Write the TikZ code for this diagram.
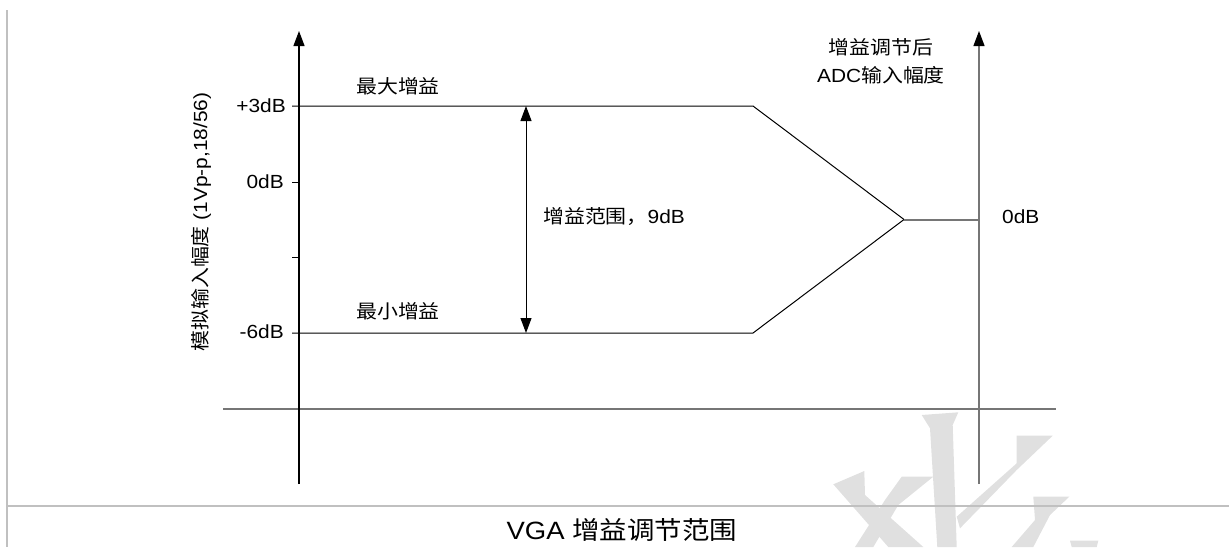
\documentclass[tikz,border=0pt]{standalone}
\usepackage{fontspec}
\setmainfont{Liberation Sans}[FakeStretch=1.1]
\newfontfamily\cjk{Noto Sans CJK SC}[FakeStretch=1.1]
\usetikzlibrary{arrows.meta}
\newcommand{\zh}[1]{{\cjk #1}}
\definecolor{border}{RGB}{192,192,192}
\definecolor{axgray}{RGB}{118,118,118}
\definecolor{wmark}{RGB}{224,224,224}
\tikzset{
  lbl/.style={inner sep=0pt, font=\fontsize{19}{22}\selectfont},
  ttlstyle/.style={inner sep=0pt, font=\fontsize{25}{28}\selectfont},
  axisline/.style={line width=1.2pt, -{Triangle[length=15pt,width=11pt,color=black]}},
  dimarrow/.style={line width=1pt, {Triangle[length=15pt,width=11pt]}-{Triangle[length=15pt,width=11pt]}},
  curve/.style={line width=1pt},
  tickline/.style={line width=1pt},
  frame/.style={line width=2pt, draw=border},
  wm/.style={fill=wmark, draw=none}
}
\begin{document}
\begin{tikzpicture}[x=1pt,y=-1pt]
\useasboundingbox (0,0) rectangle (1229,547);
% watermark
\fill[wm] (833.3,484.3) -- (864.3,471) -- (865,495) -- (923.3,547) -- (888.3,547) -- cycle;
\fill[wm] (901.7,476.7) -- (933.3,476.7) -- (898.3,505) -- (873.3,547) -- (855,547) -- (885,500) -- cycle;
\fill[wm] (921.7,415) -- (958.3,412.3) -- (952.7,425) -- (956.7,547) -- (937.3,547) -- (930,428.3) -- cycle;
\fill[wm] (1016.7,435.7) -- (1052.7,435.7) -- (1016.7,470) -- (960,528.3) -- (956.7,516.7) -- (1016.7,463.3) -- cycle;
\fill[wm] (1033.3,496.7) -- (1069.3,496.7) -- (1050,515) -- (1033.3,547) -- (1011.7,547) -- (1035,520) -- cycle;
\fill[wm] (1070,540.7) -- (1098.3,540.7) -- (1096.7,547) -- (1071.7,547) -- cycle;
% page frame
\coordinate (fA) at (7,10);
\coordinate (fB) at (7,547);
\coordinate (sA) at (7,505.5);
\coordinate (sB) at (1229,505.5);
\draw[frame] (fA) -- (fB);
\draw[frame] (sA) -- (sB);
% coordinates
\coordinate (lax0) at (299,484);
\coordinate (lax1) at (299,31);
\coordinate (rax0) at (979,484);
\coordinate (rax1) at (979,31);
\coordinate (xa0) at (223,409);
\coordinate (xa1) at (1056,409);
\coordinate (top0) at (292,106);
\coordinate (top1) at (753,106);
\coordinate (bot0) at (292,333);
\coordinate (bot1) at (753,333);
\coordinate (meet) at (904,219.5);
\coordinate (rmeet) at (979,219.5);
\coordinate (t0a) at (292,182);
\coordinate (t0b) at (299,182);
\coordinate (tma) at (292,257);
\coordinate (tmb) at (299,257);
\coordinate (dtop) at (526,106);
\coordinate (dbot) at (526,333);
% axes
\draw[line width=2pt, draw=axgray] (xa0) -- (xa1);
\draw[axisline] (lax0) -- (lax1);
\draw[axisline, draw=axgray] (rax0) -- (rax1);
% gain curves
\draw[curve] (top0) -- (top1) -- (meet);
\draw[curve] (bot0) -- (bot1) -- (meet);
\draw[line width=2pt, draw=axgray] (meet) -- (rmeet);
\draw[tickline] (t0a) -- (t0b);
\draw[tickline] (tma) -- (tmb);
\draw[dimarrow] (dtop) -- (dbot);
% labels
\node[lbl, anchor=east] (p3) at (286,106) {+3dB};
\node[lbl, anchor=east] (z0) at (284,182) {0dB};
\node[lbl, anchor=east] (m6) at (284,332) {-6dB};
\node[lbl, rotate=90] (ylab) at (201,222) {\zh{模拟输入幅度} (1Vp-p,18/56)};
\node[lbl, anchor=west] (maxg) at (356,86) {\zh{最大增益}};
\node[lbl, anchor=west] (ming) at (356,311) {\zh{最小增益}};
\node[lbl, anchor=west] (range) at (543,217) {\zh{增益范围，}9dB};
\node[lbl] (t1) at (881,47) {\zh{增益调节后}};
\node[lbl] (t2) at (881,75) {ADC\zh{输入幅度}};
\node[lbl, anchor=west] (r0) at (1002,217) {0dB};
\node[ttlstyle] (ttl) at (622,530) {VGA \zh{增益调节范围}};
\end{tikzpicture}
\end{document}
